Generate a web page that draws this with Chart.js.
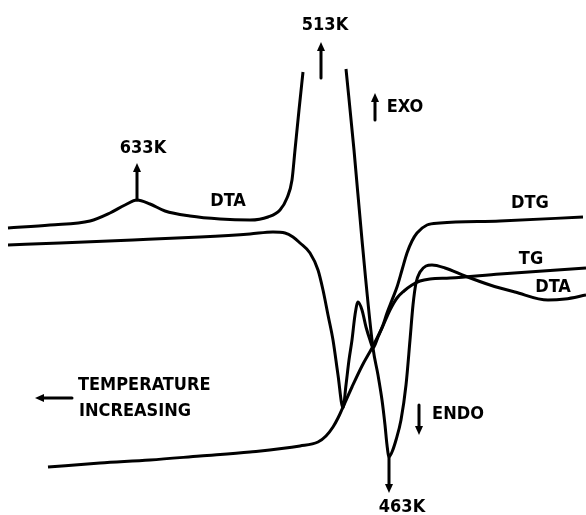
<!DOCTYPE html>
<html>
<head>
<meta charset="utf-8">
<script src="https://cdn.jsdelivr.net/npm/chart.js@4/dist/chart.umd.min.js"></script>
<style>
  html, body { margin: 0; padding: 0; background: #fff; }
  #wrap { width: 586px; height: 515px; position: relative; }
</style>
</head>
<body>
<div id="wrap"><canvas id="thermo"></canvas></div>
<script>
// schematic units: x = position along the recorder trace, y = signal (up = exo / mass gain)
const DTA_X = [8, 50, 90, 110, 125, 137, 150, 165, 190, 220, 250, 268, 280, 287, 292, 295, 299, 303,
  324,
  346, 354, 362, 373, 378, 382, 385, 387, 389, 392, 396, 401, 406, 410, 413, 416, 420, 426, 432, 445, 465, 490, 515, 548, 565, 586];
const DTA_Y = [287, 290, 294, 302, 310, 315, 311, 304, 299, 296, 295, 298, 305, 317, 335, 365, 405, 443,
  null,
  446, 365, 275, 167, 140, 115, 90, 70, 58, 63, 75, 95, 130, 175, 210, 232, 243, 249, 250, 247, 239, 230, 223, 215, 216, 220];

const DTG_X = [8, 60, 133, 200, 250, 273, 285, 293, 300, 310, 318, 323, 328, 333, 338, 343, 346, 349, 352, 355,
  358, 362, 366, 370, 373, 378, 383, 387, 392, 397, 402, 407, 412, 417, 427, 440, 500, 583];
const DTG_Y = [270, 272, 275, 278, 281, 283, 282, 278, 272, 262, 245, 225, 200, 175, 140, 107, 130, 155, 175, 200,
  213, 205, 188, 175, 167, 178, 190, 202, 215, 228, 245, 262, 274, 282, 290, 292, 294, 298];

const TG_X = [48, 100, 150, 200, 250, 300, 318, 326, 333, 338, 343, 352, 362, 372, 382, 390, 397, 404, 412, 420, 430, 450, 500, 586];
const TG_Y = [48, 52, 55, 59, 63, 69, 73, 79, 88, 97, 108, 128, 149, 167, 187, 205, 217, 224, 230, 234, 236, 237, 241, 247];

// text labels [text, x, y, align]
const LABELS = [
  ['513K', 325, 490, 'center'],
  ['EXO', 405, 408, 'center'],
  ['633K', 143, 367, 'center'],
  ['DTA', 228, 314, 'center'],
  ['DTG', 530, 312, 'center'],
  ['TG', 531, 256, 'center'],
  ['DTA', 553, 228, 'center'],
  ['ENDO', 458, 101, 'center'],
  ['463K', 402, 8, 'center'],
  ['TEMPERATURE', 78, 130, 'left'],
  ['INCREASING', 79, 104, 'left']
];

// arrows [x0, y0, x1, y1] head at (x1, y1)
const ARROWS = [
  [321, 437, 321, 473],
  [375, 395, 375, 422],
  [137, 315, 137, 352],
  [419, 110, 419, 80],
  [389, 58, 389, 22],
  [72, 117, 35, 117]
];

function pts(xs, ys) {
  return xs.map((x, i) => ({ x: x, y: ys[i] }));
}

const notes = {
  id: 'notes',
  afterDatasetsDraw(chart) {
    const c = chart.ctx;
    const sx = chart.scales.x, sy = chart.scales.y;
    c.save();
    c.fillStyle = '#000';
    c.strokeStyle = '#000';
    c.lineWidth = 3;
    c.lineCap = 'round';
    ARROWS.forEach(a => {
      const x0 = sx.getPixelForValue(a[0]), y0 = sy.getPixelForValue(a[1]);
      const x1 = sx.getPixelForValue(a[2]), y1 = sy.getPixelForValue(a[3]);
      const ang = Math.atan2(y1 - y0, x1 - x0);
      const bx = x1 - 9 * Math.cos(ang), by = y1 - 9 * Math.sin(ang);
      c.beginPath();
      c.moveTo(x0, y0);
      c.lineTo(bx, by);
      c.stroke();
      c.beginPath();
      c.moveTo(x1, y1);
      c.lineTo(bx + 4 * Math.sin(ang), by - 4 * Math.cos(ang));
      c.lineTo(bx - 4 * Math.sin(ang), by + 4 * Math.cos(ang));
      c.closePath();
      c.fill();
    });
    c.font = 'bold 18px "DejaVu Sans Condensed", "Liberation Sans Narrow", sans-serif';
    c.textBaseline = 'middle';
    LABELS.forEach(l => {
      c.textAlign = l[3];
      c.fillText(l[0], sx.getPixelForValue(l[1]), sy.getPixelForValue(l[2]));
    });
    c.restore();
  }
};

const lineStyle = {
  showLine: true,
  borderColor: '#000',
  backgroundColor: '#000',
  borderWidth: 3,
  pointRadius: 0,
  cubicInterpolationMode: 'monotone',
  spanGaps: false,
  fill: false
};

new Chart(document.getElementById('thermo'), {
  type: 'scatter',
  data: {
    datasets: [
      Object.assign({ label: 'DTA', data: pts(DTA_X, DTA_Y) }, lineStyle),
      Object.assign({ label: 'DTG', data: pts(DTG_X, DTG_Y) }, lineStyle),
      Object.assign({ label: 'TG', data: pts(TG_X, TG_Y) }, lineStyle)
    ]
  },
  options: {
    responsive: true,
    maintainAspectRatio: false,
    animation: false,
    layout: { padding: 0 },
    plugins: { legend: { display: false }, tooltip: { enabled: false } },
    scales: {
      x: { type: 'linear', min: 0, max: 586, display: false },
      y: { type: 'linear', min: 0, max: 515, display: false }
    }
  },
  plugins: [notes]
});
</script>
</body>
</html>
